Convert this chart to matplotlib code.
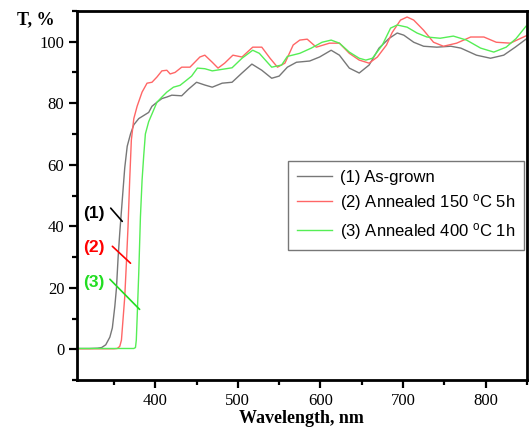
import matplotlib
matplotlib.use("Agg")
import matplotlib.pyplot as plt
from matplotlib.ticker import MultipleLocator

plt.rcParams["font.family"] = ["Liberation Serif", "DejaVu Serif"]
plt.rcParams["mathtext.fontset"] = "custom"
plt.rcParams["mathtext.rm"] = "Liberation Sans"
plt.rcParams["mathtext.it"] = "Liberation Sans:italic"

# --- data (wavelength nm, transmittance %) ---
wl_1 = [305, 320, 330, 335, 340, 345, 348, 351, 353, 355, 357, 359, 361, 363, 366, 370,
        374, 380, 386, 392, 396, 402, 408, 414, 420, 426, 432, 440, 450, 460, 469, 481,
        493, 505, 517, 529, 541, 550, 560, 571, 587, 599, 613, 623, 635, 647, 659, 671,
        683, 693, 701, 713, 725, 741, 758, 770, 789, 806, 822, 836, 850]
T_1 = [0.3, 0.3, 0.4, 0.6, 1.5, 4, 7, 14, 20, 30, 38, 45, 52, 59, 66, 70,
       73, 75, 76, 77, 79, 80.3, 81.5, 82, 82.6, 82.5, 82.4, 84.5, 86.8, 85.9, 85.2, 86.5,
       86.8, 89.8, 92.7, 90.7, 88.1, 88.8, 91.7, 93.3, 93.7, 95, 97.2, 95.6, 91.4, 89.8, 92.4, 97.9,
       101, 102.8, 102.1, 99.8, 98.5, 98.2, 98.5, 97.9, 95.6, 94.6, 95.6, 98.2, 101]

wl_2 = [305, 340, 350, 354, 357, 359, 361, 363, 365, 367, 369, 371, 374, 378, 384, 390,
        396, 402, 408, 414, 418, 424, 432, 442, 454, 460, 469, 476, 484, 494, 505, 518,
        529, 539, 548, 557, 567, 575, 584, 595, 611, 623, 635, 647, 659, 669, 680, 687,
        697, 705, 713, 725, 737, 749, 765, 782, 798, 813, 830, 850]
T_2 = [0.2, 0.2, 0.2, 0.3, 1, 3, 10, 17, 28, 40, 55, 68, 75, 79, 83.6, 86.5,
       86.8, 88.5, 90.5, 90.7, 89.5, 90, 91.7, 91.7, 95, 95.6, 93.3, 91.4, 93, 95.6, 95, 98.2,
       98.2, 94.6, 91.7, 93, 98.9, 100.5, 100.8, 98.2, 99.5, 99.5, 96.2, 94, 93, 95, 98.9, 103,
       107, 108, 107, 103.7, 99.8, 98.5, 99.5, 101.5, 101.5, 99.8, 99.5, 102]

wl_3 = [305, 350, 374, 376, 377, 378, 380, 382, 384, 386, 388, 392, 396, 402, 408, 414,
        422, 430, 438, 444, 451, 460, 469, 481, 493, 505, 518, 526, 541, 553, 560, 575,
        589, 602, 613, 623, 635, 647, 655, 663, 675, 685, 693, 705, 717, 729, 745, 761,
        777, 794, 810, 825, 837, 849]
T_3 = [0.3, 0.3, 0.3, 0.6, 3, 10, 25, 43, 55, 63, 70, 74, 76.5, 80.3, 82, 83.6,
       85.2, 85.8, 87.5, 88.8, 91.4, 91.2, 90.5, 91, 91.5, 94.6, 97.2, 96.2, 91.7, 92.4, 95.2, 96.2,
       97.9, 99.8, 100.5, 99.5, 96.6, 94.6, 94, 94.6, 98.9, 104.4, 105.4, 104.7, 102.8, 101.5, 101.1, 101.8,
       100.5, 97.9, 96.6, 98.2, 101, 105]

labels = ["(1) As-grown",
          r"(2) Annealed 150 $^{\mathrm{o}}$C 5h",
          r"(3) Annealed 400 $^{\mathrm{o}}$C 1h"]
tags = ["(1)", "(2)", "(3)"]
colors = ["#777777", "#ff6666", "#55ee55"]
tag_colors = ["black", "red", "#22dd22"]

# tag text position and leader line (start, end) in data units
tag_pos = [(326, 44.2), (326, 33.2), (326, 21.8)]
lead_from = [(346, 45.9), (348, 33.5), (345, 22.8)]
lead_to = [(360, 41.6), (370, 28.0), (381, 13.0)]

fig = plt.figure(figsize=(5.3, 4.34), dpi=100)
ax = fig.add_axes([0.145, 0.124, 0.849, 0.851])

series = [(wl_1, T_1), (wl_2, T_2), (wl_3, T_3)]
for (x, y), c, lab in zip(series, colors, labels):
    ax.plot(x, y, color=c, lw=1.0, label=lab)

for t, tc, p, a, b in zip(tags, tag_colors, tag_pos, lead_from, lead_to):
    ax.text(p[0], p[1], t, color=tc, fontsize=12.5, fontweight="bold",
            family=["Liberation Sans"], ha="center", va="center")
    ax.annotate("", xy=b, xytext=a,
                arrowprops=dict(arrowstyle="-", color=tc, lw=1.2, shrinkA=0, shrinkB=0))

ax.set_xlim(305, 850)
ax.set_ylim(-10, 110)
ax.xaxis.set_major_locator(MultipleLocator(100))
ax.xaxis.set_minor_locator(MultipleLocator(50))
ax.yaxis.set_major_locator(MultipleLocator(20))
ax.yaxis.set_minor_locator(MultipleLocator(10))
ax.tick_params(which="major", direction="out", length=6, width=1.6, labelsize=12, pad=3)
ax.tick_params(which="minor", direction="out", length=3.5, width=1.6)
for s in ax.spines.values():
    s.set_linewidth(2)

ax.set_xlabel("Wavelength, nm", fontsize=13, fontweight="bold", labelpad=1)
fig.text(0.032, 0.955, "T, %", fontsize=13, fontweight="bold", va="center")

leg = ax.legend(loc="upper right", bbox_to_anchor=(0.993, 0.593), borderaxespad=0,
                prop={"family": "Liberation Sans", "size": 12}, fancybox=False,
                handlelength=2.1, handletextpad=0.5, labelspacing=0.45, borderpad=0.5)
leg.get_frame().set_edgecolor("#555555")
leg.get_frame().set_linewidth(1.0)

fig.savefig("out.png", dpi=100)
